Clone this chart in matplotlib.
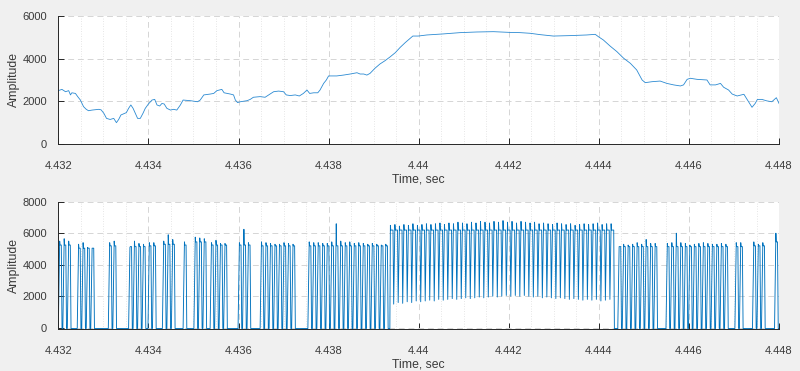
import matplotlib
matplotlib.use("Agg")
import matplotlib.pyplot as plt
from matplotlib.ticker import MultipleLocator

# top trace: time offset from 4.432 s (ms) and amplitude
top_ms = [0.0, 0.08, 0.16, 0.23, 0.27, 0.30, 0.38, 0.43, 0.49, 0.56, 0.62, 0.67,
          0.75, 0.90, 0.95, 1.01, 1.07, 1.15, 1.23, 1.29, 1.34, 1.39, 1.51, 1.56,
          1.61, 1.66, 1.71, 1.76, 1.82, 1.88, 1.93, 2.00, 2.08, 2.14, 2.19, 2.25,
          2.30, 2.35, 2.41, 2.49, 2.56, 2.63, 2.71, 2.77, 2.93, 3.09, 3.15, 3.23,
          3.37, 3.45, 3.52, 3.63, 3.68, 3.82, 3.89, 3.93, 3.98, 4.04, 4.19, 4.26,
          4.33, 4.48, 4.59, 4.67, 4.78, 4.89, 5.00, 5.06, 5.15, 5.26, 5.35, 5.44,
          5.52, 5.58, 5.67, 5.76, 5.81, 5.89, 5.95, 6.00, 6.07, 6.18, 6.33, 6.48,
          6.63, 6.70, 6.78, 6.85, 6.92, 7.03, 7.14, 7.25, 7.37, 7.48, 7.59, 7.70,
          7.81, 7.87, 7.99, 8.18, 8.55, 8.92, 9.29, 9.66, 10.03, 10.25, 10.47,
          10.70, 10.99, 11.36, 11.73, 11.92, 11.99, 12.10, 12.25, 12.40, 12.55,
          12.70, 12.84, 12.96, 13.03, 13.18, 13.36, 13.51, 13.66, 13.81, 13.88,
          13.96, 14.03, 14.18, 14.40, 14.47, 14.59, 14.70, 14.77, 14.88, 14.96,
          15.07, 15.22, 15.29, 15.40, 15.47, 15.52, 15.62, 15.73, 15.84, 15.94, 16.0]
top_amp = [2500, 2560, 2450, 2500, 2300, 2400, 2370, 2220, 2060, 1750, 1625, 1560,
           1590, 1625, 1600, 1440, 1200, 1150, 1200, 1000, 1150, 1360, 1470, 1670,
           1830, 1670, 1440, 1200, 1200, 1440, 1670, 1875, 2060, 2090, 1830, 1780,
           1900, 1875, 1670, 1590, 1625, 1590, 1830, 2060, 2030, 1980, 2060, 2300,
           2340, 2370, 2500, 2560, 2400, 2340, 2300, 2060, 1940, 1980, 2030, 2090,
           2190, 2220, 2190, 2300, 2450, 2480, 2450, 2300, 2270, 2300, 2250, 2370,
           2530, 2370, 2400, 2400, 2530, 2840, 3000, 3190, 3190, 3190, 3230, 3280,
           3340, 3280, 3280, 3230, 3310, 3550, 3750, 3900, 4090, 4280, 4530, 4750,
           4950, 5060, 5060, 5110, 5160, 5220, 5250, 5265, 5230, 5220, 5190,
           5125, 5060, 5080, 5110, 5140, 5030, 4875, 4590, 4330, 4020,
           3780, 3470, 3000, 2875, 2920, 2950, 2840, 2770, 2720, 2770,
           3030, 3080, 3030, 3000, 2770, 2770, 2840, 2660, 2530, 2340,
           2250, 2330, 2090, 1720, 1900, 2090, 2090, 2020, 1980, 2170, 1900]

# bottom trace: pulse groups (start offset in ms, number of pulses)
pulse_period_ms = 0.1
group_start_ms = [0.0, 0.42, 1.11, 1.56, 1.99, 2.31, 2.77, 3.01, 3.37, 3.99,
                  4.48, 5.54, 7.36, 12.42, 13.49, 15.02, 15.41, 15.90]
group_count = [3, 4, 2, 4, 2, 3, 1, 3, 4, 3, 8, 18, 50, 9, 14, 2, 3, 1]
group_plateau = [5250, 5050, 5200, 5150, 5200, 5300, 5250, 5450, 5250, 5250,
                 5200, 5200, 6200, 5150, 5150, 5150, 5200, 5450]
high_group = 12
pulse_peak = [5500, 5650, 5500,
              5300, 5400, 5100, 5050,
              5400, 5500,
              5100, 5500, 5350, 5300,
              5400, 5400,
              5500, 5900, 5600,
              5450,
              5750, 5700, 5650,
              5400, 5550, 5350, 5350,
              5400, 6250, 5400,
              5450, 5400, 5350, 5300, 5300, 5400, 5350, 5300,
              5450, 5400, 5400, 5350, 5350, 5450, 6600, 5500, 5400, 5450,
              5350, 5400, 5350, 5300, 5350, 5300, 5250, 5300,
              6500, 6550, 6450, 6550, 6500, 6600, 6500, 6550, 6600, 6550,
              6600, 6650, 6550, 6650, 6600, 6700, 6650, 6600, 6700, 6650,
              6750, 6700, 6650, 6750, 6700, 6800, 6700, 6750, 6650, 6750,
              6700, 6650, 6700, 6600, 6650, 6600, 6550, 6650, 6600, 6550,
              6600, 6500, 6550, 6600, 6550, 6600, 6650, 6550, 6600, 6600,
              5150, 5300, 5250, 5300, 5400, 5300, 5600, 5350, 5350,
              5350, 5400, 6000, 5400, 5350, 5250, 5300, 5350, 5400, 5350,
              5300, 5300, 5350, 5300,
              5400, 5400,
              5450, 5300, 5400,
              6000]
dip_low = [1500, 1600, 1550, 1650, 1600, 1700, 1650, 1700, 1750, 1700,
           1800, 1750, 1800, 1850, 1800, 1850, 1900, 1850, 1900, 1950,
           1900, 1950, 2000, 1950, 2000, 2050, 2000, 2050, 2000, 2050,
           2000, 1950, 2000, 1900, 1950, 1900, 1850, 1900, 1850, 1800,
           1850, 1800, 1750, 1800, 1750, 1800, 1700, 1750, 1800, -50]
baseline = -50

x_ticks = [4.432, 4.434, 4.436, 4.438, 4.44, 4.442, 4.444, 4.446, 4.448]
x_labels = ["4.432", "4.434", "4.436", "4.438", "4.44", "4.442", "4.444", "4.446", "4.448"]
top_yticks = [0, 2000, 4000, 6000]
bot_yticks = [0, 2000, 4000, 6000, 8000]

T0 = 4.432
LINE = "#0072BD"
AX = "#262626"
TXT = "#3a3a3a"


def build_pulses():
    t, y = [0.0], [baseline]
    k = 0
    P = pulse_period_ms
    for g, (start, n) in enumerate(zip(group_start_ms, group_count)):
        pl = group_plateau[g]
        for i in range(n):
            ts = start + i * P
            pk = pulse_peak[k]
            k += 1
            if g == high_group:
                if i == 0:
                    t.append(ts); y.append(baseline)
                t += [ts + 0.12 * P, ts + 0.2 * P, ts + 0.7 * P, ts + 0.85 * P]
                y += [pk, pl, pl, dip_low[i]]
            else:
                t += [ts, ts + 0.3 * P, ts + 0.38 * P, ts + 0.66 * P, ts + 0.82 * P]
                y += [baseline, pk, pl, pl, baseline]
    t.append(16.0); y.append(baseline)
    return [T0 + v / 1000 for v in t], y


def style_axes(ax, yticks, ylim):
    ax.set_facecolor("white")
    ax.set_xlim(4.432, 4.448)
    ax.set_ylim(*ylim)
    ax.set_xticks(x_ticks)
    ax.set_xticklabels(x_labels)
    ax.set_yticks(yticks)
    ax.xaxis.set_minor_locator(MultipleLocator(0.0005))
    ax.grid(True, which="major", linestyle=(0, (6, 4)), color="#d5d5d5", linewidth=0.7)
    ax.grid(True, which="minor", axis="x", linestyle=(0, (1, 2)), color="#dedede", linewidth=0.6)
    ax.set_axisbelow(True)
    for s in ["top", "right"]:
        ax.spines[s].set_visible(False)
    for s in ["left", "bottom"]:
        ax.spines[s].set_color(AX)
        ax.spines[s].set_linewidth(0.7)
    ax.tick_params(which="major", direction="in", length=4, width=0.7, color=AX,
                   labelsize=8, labelcolor=TXT)
    ax.tick_params(axis="x", which="major", pad=12)
    ax.tick_params(axis="y", which="major", pad=8)
    ax.tick_params(which="minor", length=0)
    ax.set_xlabel("Time, sec", fontsize=8.8, color=TXT, labelpad=2)
    ax.set_ylabel("Amplitude", fontsize=8.8, color=TXT, labelpad=2)


plt.rcParams["font.family"] = ["Liberation Sans", "DejaVu Sans"]
fig = plt.figure(figsize=(8, 3.71), dpi=100, facecolor="#f0f0f0")

ax1 = fig.add_axes([0.0729, 0.6119, 0.9009, 0.3450])
ax1.plot([T0 + v / 1000 for v in top_ms], top_amp, color="#2b8ad2", linewidth=0.6)
style_axes(ax1, top_yticks, (0, 6000))

ax2 = fig.add_axes([0.0729, 0.1119, 0.9009, 0.3444])
bt, by = build_pulses()
ax2.plot(bt, by, color=LINE, linewidth=0.65)
style_axes(ax2, bot_yticks, (-110, 8000))

fig.savefig("out.png", dpi=100, facecolor=fig.get_facecolor())
